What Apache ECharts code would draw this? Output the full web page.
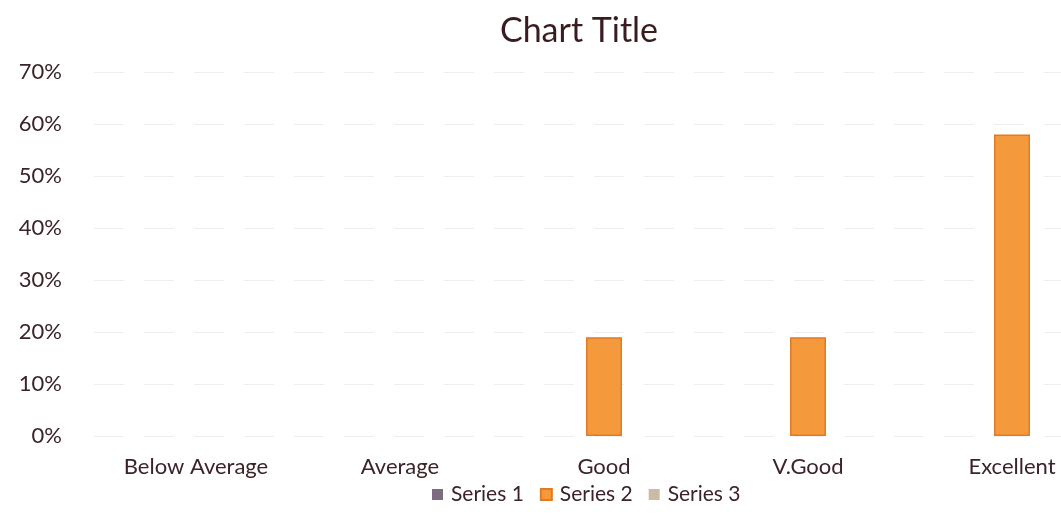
<!DOCTYPE html>
<html>
<head>
<meta charset="utf-8">
<script src="https://cdn.jsdelivr.net/npm/echarts@6/dist/echarts.min.js"></script>
<style>
  html, body { margin: 0; padding: 0; background: #ffffff; overflow: hidden; }
  #chart { width: 1061px; height: 530px; }
</style>
</head>
<body>
<div id="chart"></div>
<script>
// Rating categories along the x axis
const categories = ['Below Average', 'Average', 'Good', 'V.Good', 'Excellent'];
// Share of responses per rating (percent); series 1 and 3 hold no values
const series1 = [null, null, null, null, null];
const series2 = [null, null, 19, 19, 58];
const series3 = [null, null, null, null, null];
const seriesNames = ['Series 1', 'Series 2', 'Series 3'];
const yTicks = { min: 0, max: 70, interval: 10 };

const textColor = '#3b2328';
const fontFamily = 'Lato, "Open Sans", "Noto Sans", sans-serif';

const chart = echarts.init(document.getElementById('chart'));
chart.setOption({
  animation: false,
  textStyle: { fontFamily: fontFamily },
  title: {
    text: 'Chart Title',
    left: 574,
    textAlign: 'center',
    top: 9,
    textStyle: { fontSize: 34, fontWeight: 'normal', color: '#3a1c20', fontFamily: fontFamily }
  },
  legend: {
    data: seriesNames,
    left: 427,
    bottom: 20,
    itemWidth: 11,
    itemHeight: 11,
    itemGap: 16,
    icon: 'rect',
    textStyle: { fontSize: 21, color: textColor, fontFamily: fontFamily, padding: [0, 0, 0, 3] }
  },
  // plot area runs past the right edge, so the last band is partly cut off
  grid: { left: 94, width: 1020, top: 72, height: 364, outerBoundsMode: 'none', containLabel: false },
  xAxis: {
    type: 'category',
    data: categories,
    axisLine: { show: false },
    axisTick: { show: false },
    axisLabel: { fontSize: 22, color: textColor, margin: 20, fontFamily: fontFamily }
  },
  yAxis: {
    type: 'value',
    min: yTicks.min,
    max: yTicks.max,
    interval: yTicks.interval,
    axisLine: { show: false },
    axisTick: { show: false },
    axisLabel: { fontSize: 22, color: textColor, margin: 32, formatter: '{value}%', fontFamily: fontFamily },
    splitLine: { lineStyle: { color: '#efefef', type: [30, 20], width: 1 } }
  },
  series: [
    { name: seriesNames[0], type: 'bar', data: series1, barWidth: 36, barGap: '30%',
      itemStyle: { color: '#7d6b80' } },
    { name: seriesNames[1], type: 'bar', data: series2, barWidth: 36, barGap: '30%',
      itemStyle: { color: '#f49a3c', borderColor: '#e27a22', borderWidth: 1.5 } },
    { name: seriesNames[2], type: 'bar', data: series3, barWidth: 36, barGap: '30%',
      itemStyle: { color: '#cbbba4' } }
  ]
});
</script>
</body>
</html>
